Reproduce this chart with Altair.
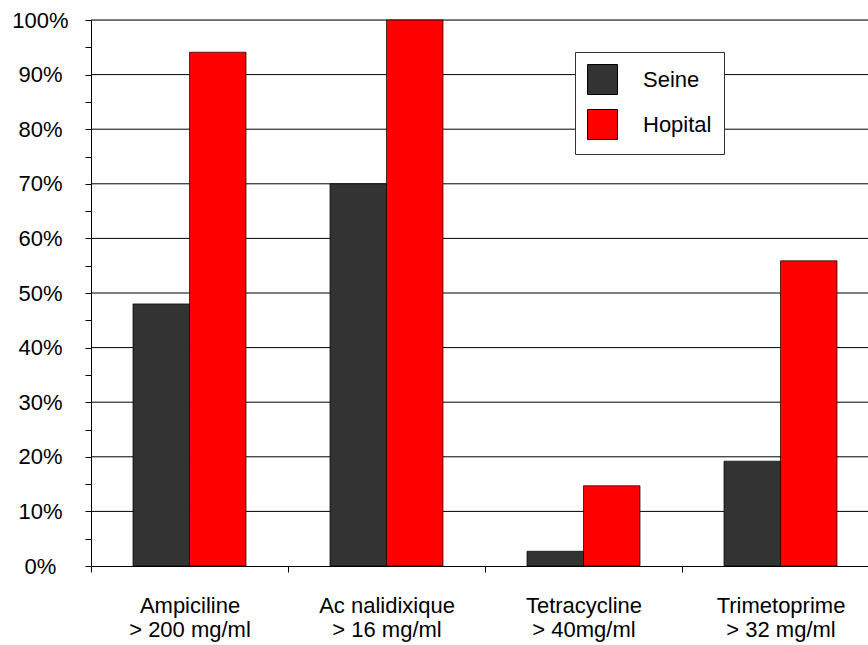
import altair as alt
import pandas as pd

categories = ["Ampiciline\n> 200 mg/ml", "Ac nalidixique\n> 16 mg/ml",
              "Tetracycline\n> 40mg/ml", "Trimetoprime\n> 32 mg/ml"]
series = ["Seine", "Hopital"]
seine = [48.0, 70.0, 2.7, 19.2]
hopital = [94.1, 100.0, 14.7, 55.9]
colors = ["#333333", "#FF0000"]
grid_values = [0.1, 0.2, 0.3, 0.4, 0.5, 0.6, 0.7, 0.8, 0.9, 1.0]
tick_values = [i / 20 for i in range(21)]

rows = []
for c, s, h in zip(categories, seine, hopital):
    rows.append({"cat": c, "series": "Seine", "value": s / 100})
    rows.append({"cat": c, "series": "Hopital", "value": h / 100})
df = pd.DataFrame(rows)
grid_df = pd.DataFrame({"g": grid_values})

FONT = "Liberation Sans"
FS = 22

yscale = alt.Scale(domain=[0, 1], nice=False, zero=True)
yaxis = alt.Axis(title=None, values=tick_values, grid=False,
                 labelExpr="round(datum.value*100) % 10 == 0 ? format(datum.value, '.0%') : ''",
                 labelFontSize=FS, labelFont=FONT, labelColor="#000",
                 labelAlign="center", labelPadding=45, labelBaseline="middle",
                 tickSize=6, tickColor="#000", domainColor="#000")

grid = alt.Chart(grid_df).mark_rule(color="#000000", strokeWidth=1).encode(
    y=alt.Y("g:Q", scale=yscale, axis=yaxis)
)

bars = alt.Chart(df).mark_bar(stroke="#000000", strokeWidth=0.7).encode(
    x=alt.X("cat:N", sort=categories,
            scale=alt.Scale(range=[0, 788], paddingInner=0, paddingOuter=0),
            axis=alt.Axis(title=None, labelAngle=0, tickBand="extent",
                          labelExpr="split(datum.label, '\\n')",
                          labelFontSize=FS, labelFont=FONT, labelColor="#000",
                          labelLineHeight=24, labelPadding=23, labelBaseline="top",
                          tickSize=6, tickColor="#000", domainColor="#000",
                          grid=False)),
    xOffset=alt.XOffset("series:N", sort=series,
                        scale=alt.Scale(paddingInner=0, paddingOuter=0.743)),
    y=alt.Y("value:Q", scale=yscale, axis=yaxis),
    color=alt.Color("series:N", sort=series,
                    scale=alt.Scale(domain=series, range=colors),
                    legend=alt.Legend(title=None, orient="none", legendX=484, legendY=32,
                                      fillColor="#FFFFFF", strokeColor="#333333",
                                      padding=12, symbolType="square", symbolSize=900,
                                      symbolStrokeColor="#000", symbolStrokeWidth=1,
                                      labelFontSize=FS, labelFont=FONT, labelColor="#000",
                                      labelOffset=25, rowPadding=10)),
)

chart = alt.layer(grid, bars).properties(
    width=777, height=546,
    autosize=alt.AutoSizeParams(type="none"),
    padding={"left": 91, "top": 20, "right": 0, "bottom": 79},
).configure_view(stroke=None).configure(background="#FFFFFF")

chart.save("out.html", embed_options={"renderer": "svg", "actions": False})
